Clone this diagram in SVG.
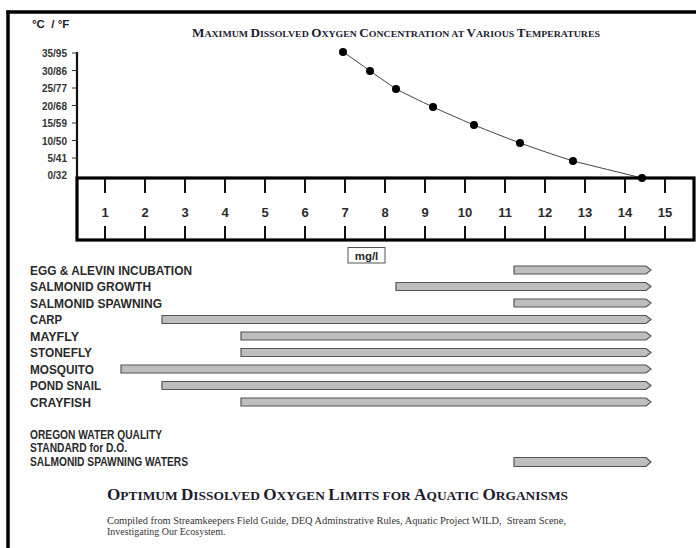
<svg xmlns="http://www.w3.org/2000/svg" width="696" height="548" viewBox="0 0 696 548">
<style>
.lbl{font-family:"Liberation Sans Narrow","Liberation Sans",Arial,sans-serif;font-weight:bold;font-size:13px;fill:#2a2a2a}
.ax{font-family:"Liberation Sans",Arial,sans-serif;font-weight:bold;font-size:10px;fill:#333;text-anchor:end}
.num{font-family:"Liberation Sans Narrow","Liberation Sans",Arial,sans-serif;font-weight:bold;font-size:13px;fill:#2a2a2a;text-anchor:middle}
.ser{font-family:"Liberation Serif","Times New Roman",serif;font-weight:bold;fill:#1c1c30}
.note{font-family:"Liberation Serif","Times New Roman",serif;font-size:10px;fill:#333}
.bar{fill:#bebebe;stroke:#555;stroke-width:1.2}
.tick{stroke:#111;stroke-width:2}
.dot{fill:#000}
</style>
<rect width="696" height="548" fill="#fff"/>
<g id="frame" stroke="#000" stroke-width="3.5" fill="none">
<line x1="6.5" y1="12" x2="696" y2="12"/>
<line x1="8" y1="10.5" x2="8" y2="548"/>
</g>
<g id="chart">
<text x="32" y="28" class="lbl" style="font-size:11.5px;fill:#222">°C&#160;&#160;/ °F</text>
<text x="192" y="37" class="ser" textLength="408" lengthAdjust="spacingAndGlyphs"><tspan font-size="11.5">M</tspan><tspan font-size="8.6">AXIMUM </tspan><tspan font-size="11.5">D</tspan><tspan font-size="8.6">ISSOLVED </tspan><tspan font-size="11.5">O</tspan><tspan font-size="8.6">XYGEN </tspan><tspan font-size="11.5">C</tspan><tspan font-size="8.6">ONCENTRATION AT </tspan><tspan font-size="11.5">V</tspan><tspan font-size="8.6">ARIOUS </tspan><tspan font-size="11.5">T</tspan><tspan font-size="8.6">EMPERATURES</tspan></text>
<g id="yaxis">
<line x1="77" y1="52" x2="77" y2="179" stroke="#111" stroke-width="2.2"/>
<g stroke="#333" stroke-width="1">
<line x1="72" y1="53" x2="77" y2="53"/><line x1="72" y1="70.5" x2="77" y2="70.5"/><line x1="72" y1="88" x2="77" y2="88"/><line x1="72" y1="105.5" x2="77" y2="105.5"/><line x1="72" y1="123" x2="77" y2="123"/><line x1="72" y1="140.5" x2="77" y2="140.5"/><line x1="72" y1="158" x2="77" y2="158"/>
</g>
<text x="67" y="57" class="ax">35/95</text>
<text x="67" y="74.5" class="ax">30/86</text>
<text x="67" y="92" class="ax">25/77</text>
<text x="67" y="109.5" class="ax">20/68</text>
<text x="67" y="127" class="ax">15/59</text>
<text x="67" y="144.5" class="ax">10/50</text>
<text x="67" y="162" class="ax">5/41</text>
<text x="67" y="179" class="ax">0/32</text>
</g>
<g id="curve">
<path d="M343,52 C352,58 362,65 370,71 C379,77 387,83 396,89 C408,95 420,101 433,107 C446,113 460,119 474,125 C489,131 504,137 520,143 C537,149 554,155 573,161 C596,167 619,172 642,178" fill="none" stroke="#444" stroke-width="1"/>
<circle class="dot" cx="343" cy="52" r="4"/>
<circle class="dot" cx="370" cy="71" r="4"/>
<circle class="dot" cx="396" cy="89" r="4"/>
<circle class="dot" cx="433" cy="107" r="4"/>
<circle class="dot" cx="474" cy="125" r="4"/>
<circle class="dot" cx="520" cy="143" r="4"/>
<circle class="dot" cx="573" cy="161" r="4"/>
<circle class="dot" cx="642" cy="178" r="4"/>
</g>
<g id="scale">
<rect x="77" y="178" width="617" height="62" fill="none" stroke="#000" stroke-width="3.2"/>
<g class="tick">
<line x1="105" y1="179" x2="105" y2="193"/><line x1="105" y1="226" x2="105" y2="239"/>
<line x1="145" y1="179" x2="145" y2="193"/><line x1="145" y1="226" x2="145" y2="239"/>
<line x1="185" y1="179" x2="185" y2="193"/><line x1="185" y1="226" x2="185" y2="239"/>
<line x1="225" y1="179" x2="225" y2="193"/><line x1="225" y1="226" x2="225" y2="239"/>
<line x1="265" y1="179" x2="265" y2="193"/><line x1="265" y1="226" x2="265" y2="239"/>
<line x1="305" y1="179" x2="305" y2="193"/><line x1="305" y1="226" x2="305" y2="239"/>
<line x1="345" y1="179" x2="345" y2="193"/><line x1="345" y1="226" x2="345" y2="239"/>
<line x1="385" y1="179" x2="385" y2="193"/><line x1="385" y1="226" x2="385" y2="239"/>
<line x1="425" y1="179" x2="425" y2="193"/><line x1="425" y1="226" x2="425" y2="239"/>
<line x1="465" y1="179" x2="465" y2="193"/><line x1="465" y1="226" x2="465" y2="239"/>
<line x1="505" y1="179" x2="505" y2="193"/><line x1="505" y1="226" x2="505" y2="239"/>
<line x1="545" y1="179" x2="545" y2="193"/><line x1="545" y1="226" x2="545" y2="239"/>
<line x1="585" y1="179" x2="585" y2="193"/><line x1="585" y1="226" x2="585" y2="239"/>
<line x1="625" y1="179" x2="625" y2="193"/><line x1="625" y1="226" x2="625" y2="239"/>
<line x1="665" y1="179" x2="665" y2="193"/><line x1="665" y1="226" x2="665" y2="239"/>
</g>
<text x="105" y="217" class="num">1</text>
<text x="145" y="217" class="num">2</text>
<text x="185" y="217" class="num">3</text>
<text x="225" y="217" class="num">4</text>
<text x="265" y="217" class="num">5</text>
<text x="305" y="217" class="num">6</text>
<text x="345" y="217" class="num">7</text>
<text x="385" y="217" class="num">8</text>
<text x="425" y="217" class="num">9</text>
<text x="465" y="217" class="num">10</text>
<text x="505" y="217" class="num">11</text>
<text x="545" y="217" class="num">12</text>
<text x="585" y="217" class="num">13</text>
<text x="625" y="217" class="num">14</text>
<text x="665" y="217" class="num">15</text>
</g>
<g id="unit">
<rect x="348" y="247.5" width="37" height="15.5" fill="#fff" stroke="#555" stroke-width="1"/>
<text x="366.5" y="259.5" class="num" style="font-size:11.5px">mg/l</text>
</g>
</g>
<g id="labels">
<text x="30" y="274.5" class="lbl" textLength="162" lengthAdjust="spacingAndGlyphs">EGG &amp; ALEVIN INCUBATION</text>
<text x="30" y="291" class="lbl" textLength="121" lengthAdjust="spacingAndGlyphs">SALMONID GROWTH</text>
<text x="30" y="307.5" class="lbl" textLength="132" lengthAdjust="spacingAndGlyphs">SALMONID SPAWNING</text>
<text x="30" y="324" class="lbl" textLength="32" lengthAdjust="spacingAndGlyphs">CARP</text>
<text x="30" y="340.5" class="lbl" textLength="49" lengthAdjust="spacingAndGlyphs">MAYFLY</text>
<text x="30" y="357" class="lbl" textLength="62" lengthAdjust="spacingAndGlyphs">STONEFLY</text>
<text x="30" y="373.5" class="lbl" textLength="64" lengthAdjust="spacingAndGlyphs">MOSQUITO</text>
<text x="30" y="390" class="lbl" textLength="71" lengthAdjust="spacingAndGlyphs">POND SNAIL</text>
<text x="30" y="406.5" class="lbl" textLength="61" lengthAdjust="spacingAndGlyphs">CRAYFISH</text>
<text x="30" y="438.5" class="lbl" style="font-size:12px" textLength="132" lengthAdjust="spacingAndGlyphs">OREGON WATER QUALITY</text>
<text x="30" y="452" class="lbl" style="font-size:12px" textLength="97" lengthAdjust="spacingAndGlyphs">STANDARD for D.O.</text>
<text x="30" y="465.5" class="lbl" style="font-size:12px" textLength="158" lengthAdjust="spacingAndGlyphs">SALMONID SPAWNING WATERS</text>
</g>
<g id="bars">
<polygon id="bar-egg" class="bar" points="514,266 646,266 651,270 646,274 514,274"/>
<polygon id="bar-growth" class="bar" points="396,282.5 646,282.5 651,286.5 646,290.5 396,290.5"/>
<polygon id="bar-spawning" class="bar" points="514,299 646,299 651,303 646,307 514,307"/>
<polygon id="bar-carp" class="bar" points="162,315.5 646,315.5 651,319.5 646,323.5 162,323.5"/>
<polygon id="bar-mayfly" class="bar" points="241,332 646,332 651,336 646,340 241,340"/>
<polygon id="bar-stonefly" class="bar" points="241,348.5 646,348.5 651,352.5 646,356.5 241,356.5"/>
<polygon id="bar-mosquito" class="bar" points="121,365 646,365 651,369 646,373 121,373"/>
<polygon id="bar-pondsnail" class="bar" points="162,381.5 646,381.5 651,385.5 646,389.5 162,389.5"/>
<polygon id="bar-crayfish" class="bar" points="241,398 646,398 651,402 646,406 241,406"/>
<polygon id="bar-oregon" class="bar" points="514,457.5 646,457.5 651,462 646,466.5 514,466.5"/>
</g>
<g id="footer">
<text x="107" y="500" class="ser" textLength="461" lengthAdjust="spacingAndGlyphs"><tspan font-size="16">O</tspan><tspan font-size="12.5">PTIMUM </tspan><tspan font-size="16">D</tspan><tspan font-size="12.5">ISSOLVED </tspan><tspan font-size="16">O</tspan><tspan font-size="12.5">XYGEN </tspan><tspan font-size="16">L</tspan><tspan font-size="12.5">IMITS FOR </tspan><tspan font-size="16">A</tspan><tspan font-size="12.5">QUATIC </tspan><tspan font-size="16">O</tspan><tspan font-size="12.5">RGANISMS</tspan></text>
<text x="107" y="524" class="note" textLength="459" lengthAdjust="spacingAndGlyphs">Compiled from Streamkeepers Field Guide, DEQ Adminstrative Rules, Aquatic Project WILD,&#160; Stream Scene,</text>
<text x="107" y="535" class="note">Investigating Our Ecosystem.</text>
</g>
</svg>
